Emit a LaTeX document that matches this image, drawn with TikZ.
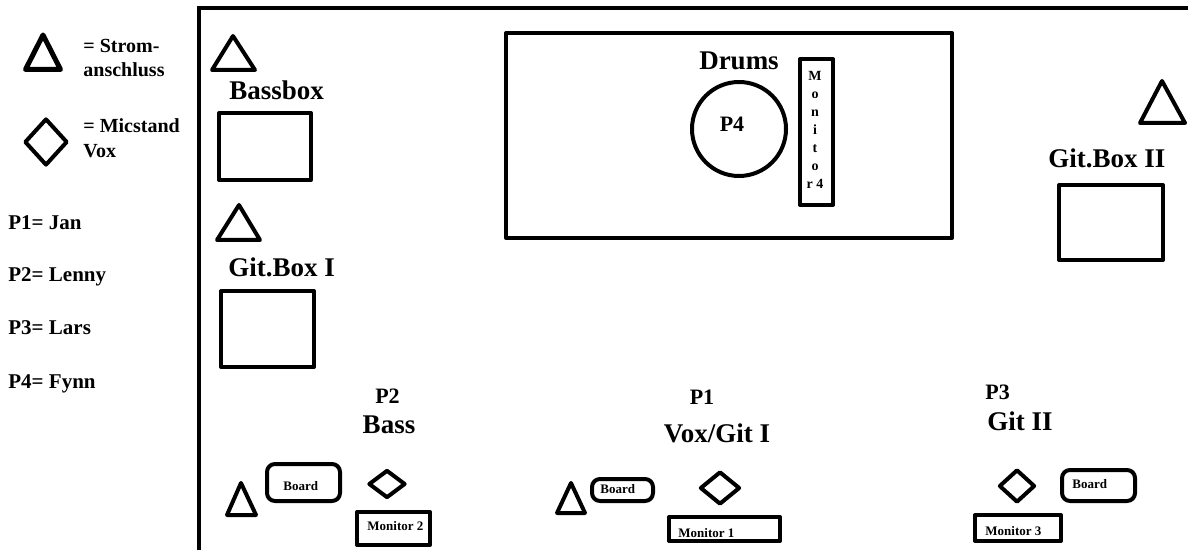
\documentclass[tikz,border=0pt]{standalone}
\usepackage{fontspec}
\setmainfont{Liberation Serif}
\usetikzlibrary{shapes.geometric}
\begin{document}
\begin{tikzpicture}[x=0.5pt,y=-0.5pt,
  thick line/.style={line width=2pt,line join=round},
  tri/.style={thick line},
  box/.style={draw,thick line,rectangle,inner sep=0pt},
  rbox/.style={draw,thick line,rectangle,rounded corners=4pt,inner sep=0pt},
  dia/.style={draw,thick line,diamond,inner sep=0pt},
  txt/.style={inner sep=0pt,font=\bfseries},
  legtxt/.style={txt,anchor=base west,font=\bfseries\fontsize{10}{12}\selectfont},
  plab/.style={txt,anchor=base west,font=\bfseries\fontsize{10.5}{12}\selectfont},
  big/.style={txt,anchor=base,font=\bfseries\fontsize{13.5}{16}\selectfont},
  mid/.style={txt,anchor=base,font=\bfseries\fontsize{11}{13}\selectfont},
  small/.style={txt,anchor=base west,font=\bfseries\fontsize{6.5}{8}\selectfont}
]
\useasboundingbox (0,0) rectangle (1188,550);
% stage frame
\draw[line width=2pt] (199,552) -- (199,8) -- (1190,8);

% legend
\draw[tri,line width=2.5pt] (25.5,69.5) -- (43,35) -- (60.5,69.5) -- cycle;
\node[legtxt] (l1) at (83,53) {= Strom-};
\node[legtxt] (l2) at (83,77) {anschluss};
\node[dia,minimum width=21.5pt,minimum height=23.5pt] (ld) at (46,142) {};
\node[legtxt] (l3) at (83,133) {= Micstand};
\node[legtxt] (l4) at (83,158) {Vox};
\node[plab] (p1l) at (8,230) {P1= Jan};
\node[plab] (p2l) at (8,282) {P2= Lenny};
\node[plab] (p3l) at (8,335) {P3= Lars};
\node[plab] (p4l) at (8,388) {P4= Fynn};

% Bassbox
\draw[tri] (212,70) -- (233,36) -- (255,70) -- cycle;
\node[big,anchor=base west] (bbt) at (229,100) {Bassbox};
\node[box,minimum width=46pt,minimum height=33.5pt] (bb) at (265,146.5) {};
% Git.Box I
\draw[tri] (217,240) -- (239,205) -- (260,240) -- cycle;
\node[big,anchor=base west] (g1t) at (228,277) {Git.Box I};
\node[box,minimum width=46.5pt,minimum height=38pt] (g1) at (267.5,329) {};

% Drums
\node[box,minimum width=223pt,minimum height=102.5pt] (dr) at (729,135.5) {};
\node[big] (drt) at (739,70) {Drums};
\node[draw,thick line,circle,minimum size=47pt,inner sep=0pt] (p4c) at (739,129) {};
\node[mid] (p4t) at (732,132) {P4};
\node[box,minimum width=16.5pt,minimum height=73pt] (m4) at (816.5,132) {};
\node[txt,align=center,font=\bfseries\fontsize{7}{9}\selectfont] (m4t) at (815,130) {M\\o\\n\\i\\t\\o\\r 4};

% Git.Box II
\draw[tri] (1140,123) -- (1162,81) -- (1185,123) -- cycle;
\node[big,anchor=base west] (g2t) at (1048,168) {Git.Box II};
\node[box,minimum width=52pt,minimum height=37.5pt] (g2) at (1111,222.5) {};

% P2 Bass
\node[mid] (p2t) at (387.5,403) {P2};
\node[big] (bat) at (389,433) {Bass};
\draw[tri] (227,515) -- (241,483) -- (256,515) -- cycle;
\node[rbox,minimum width=36.5pt,minimum height=18.5pt] (b2) at (303.5,482.5) {};
\node[small] (b2t) at (283,490) {Board};
\node[dia,minimum width=18.5pt,minimum height=14pt] (d2) at (387,484) {};
\node[box,minimum width=36.5pt,minimum height=16.5pt] (m2) at (393.5,528.5) {};
\node[small] (m2t) at (367,530) {Monitor 2};

% P1 Vox/Git I
\node[mid] (p1t) at (702,405) {P1};
\node[big] (vgt) at (717,443) {Vox/Git I};
\draw[tri] (557,513) -- (571,483) -- (585,513) -- cycle;
\node[rbox,minimum width=30.5pt,minimum height=11pt] (b1) at (622.5,490) {};
\node[small] (b1t) at (600,493) {Board};
\node[dia,minimum width=20pt,minimum height=16.5pt] (d1) at (720,488) {};
\node[box,minimum width=55.5pt,minimum height=12pt] (m1) at (724.5,529) {};
\node[small] (m1t) at (678,537) {Monitor 1};

% P3 Git II
\node[mid,anchor=base west] (p3t) at (985,400) {P3};
\node[big,anchor=base west] (git) at (987,430) {Git II};
\node[dia,minimum width=18pt,minimum height=16.5pt] (d3) at (1017,486) {};
\node[rbox,minimum width=36.5pt,minimum height=15.5pt] (b3) at (1098.5,485.5) {};
\node[small] (b3t) at (1072,488) {Board};
\node[box,minimum width=43pt,minimum height=13pt] (m3) at (1018,528) {};
\node[small] (m3t) at (985,535) {Monitor 3};
\end{tikzpicture}
\end{document}
